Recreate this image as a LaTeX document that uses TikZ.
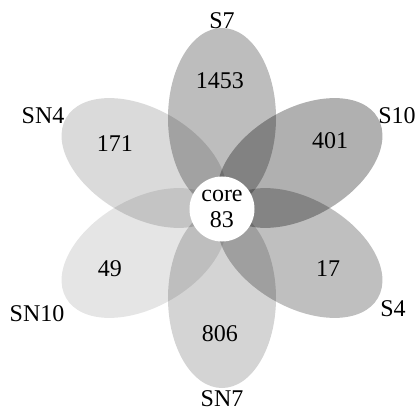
\documentclass[tikz,border=0pt]{standalone}
\usepackage{fontspec}
\setmainfont{Liberation Serif}
\usetikzlibrary{positioning, shapes.geometric}

\tikzset{
    petal/.style={ellipse, fill=black, inner sep=0pt, minimum width=90pt, minimum height=54pt},
    count/.style={font=\fontsize{12}{13}\selectfont},
    setname/.style={font=\fontsize{12}{13}\selectfont}
}

\begin{document}
\begin{tikzpicture}[x=0.5pt, y=0.5pt]
    \useasboundingbox (-222,-204) rectangle (195,208);

    %% petals
    \node[petal, fill opacity=0.26, rotate=90]   (s7)   at (90:90)  {};
    \node[petal, fill opacity=0.31, rotate=30]   (s10)  at (30:90)  {};
    \node[petal, fill opacity=0.25, rotate=-30]  (s4)   at (-30:90) {};
    \node[petal, fill opacity=0.17, rotate=-90]  (sn7)  at (-90:90) {};
    \node[petal, fill opacity=0.10, rotate=210]  (sn10) at (210:90) {};
    \node[petal, fill opacity=0.145, rotate=150] (sn4)  at (150:90) {};

    %% core
    \node[circle, fill=white, inner sep=0pt, minimum size=32.5pt, align=center, count] (core) at (0,-1) {core\\83};

    %% counts
    \node[count] (n7)   at (-2,127)   {1453};
    \node[count] (n10)  at (108,67)   {401};
    \node[count] (n4)   at (106,-61)  {17};
    \node[count] (nn7)  at (-2,-126)  {806};
    \node[count] (nn10) at (-112,-61) {49};
    \node[count] (nn4)  at (-107,64)  {171};

    %% names
    \node[setname] (l7)   at (0,187)     {S7};
    \node[setname] (l10)  at (175,92)    {S10};
    \node[setname] (l4)   at (171,-101)  {S4};
    \node[setname] (ln7)  at (0,-191)    {SN7};
    \node[setname] (ln10) at (-185,-106) {SN10};
    \node[setname] (ln4)  at (-179,92)   {SN4};
\end{tikzpicture}
\end{document}
